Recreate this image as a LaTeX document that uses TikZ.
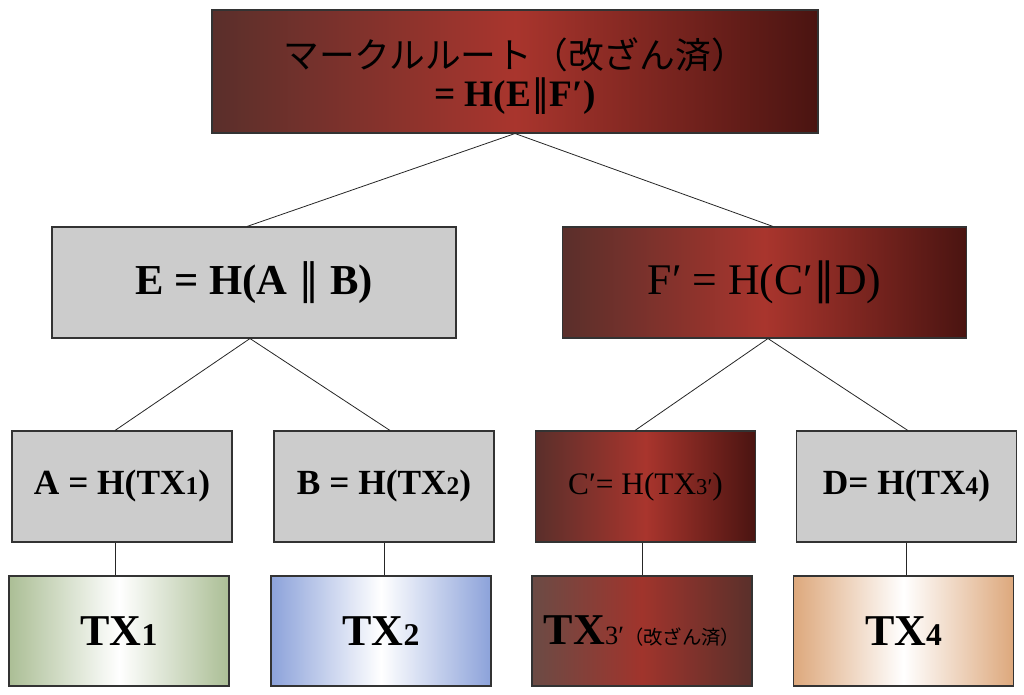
\documentclass[tikz,border=0pt]{standalone}
\usepackage{fontspec}
\setmainfont{Liberation Serif}
\newfontfamily\jp{Noto Sans CJK JP}
\newfontfamily\dvs{DejaVu Sans}
\newcommand\sdig[1]{\scalebox{0.72}{#1}}
\newcommand\pll{{\dvs\mdseries ∥}}
\definecolor{boxgray}{HTML}{CCCCCC}
\definecolor{bordergray}{HTML}{333333}
\definecolor{redL}{HTML}{5A2F2B}
\definecolor{redM}{HTML}{A9352D}
\definecolor{redR}{HTML}{4A1411}
\definecolor{brL}{HTML}{6B4B45}
\definecolor{brM}{HTML}{A0342C}
\definecolor{brR}{HTML}{5A302B}
\definecolor{grnE}{HTML}{ABBE95}
\definecolor{bluE}{HTML}{8CA2DA}
\definecolor{orgE}{HTML}{DDA87C}
\begin{document}
\begin{tikzpicture}[x=0.75pt,y=-0.75pt,
  box/.style={draw=bordergray, line width=0.8pt, inner sep=0pt, align=center, font=\bfseries},
  bigbox/.style={box, minimum width=303pt, minimum height=83.25pt},
  smallbox/.style={box, minimum width=165pt, minimum height=83.25pt},
  txbox/.style={box, minimum width=165pt, minimum height=82.5pt},
  graybox/.style={fill=boxgray},
  redbox/.style={left color=redL, right color=redR, middle color=redM},
  brownbox/.style={left color=brL, right color=brR, middle color=brM},
  greenbox/.style={left color=grnE, right color=grnE, middle color=white},
  bluebox/.style={left color=bluE, right color=bluE, middle color=white},
  orangebox/.style={left color=orgE, right color=orgE, middle color=white},
  link/.style={draw=black!85, line width=0.6pt}]
\useasboundingbox (0,0) rectangle (1024,695);

\node[box, redbox, minimum width=454.5pt, minimum height=92.25pt] (root) at (515,71.5)
  {\rule{0pt}{30pt}{\jp\mdseries\fontsize{26.8}{28}\selectfont マークルルート（改ざん済）}\\[4pt]
   {\fontsize{28}{27}\selectfont = H(E\pll F′)}};

\node[bigbox, graybox] (E) at (254,282.5) {\fontsize{32}{36}\selectfont E = H(A \pll{} B)};
\node[bigbox, redbox] (F) at (764.5,282.5) {\mdseries\fontsize{32.8}{36}\selectfont F′ = H(C′\pll D)};

\node[smallbox, graybox] (A) at (122,486.5) {\fontsize{26.5}{30}\selectfont A = H(TX\sdig{1})};
\node[smallbox, graybox] (B) at (384,486.5) {\fontsize{26.5}{30}\selectfont B = H(TX\sdig{2})};
\node[smallbox, redbox] (C) at (645.5,486.5) {\mdseries\fontsize{23.5}{28}\selectfont C′= H(TX\sdig{3′})};
\node[smallbox, graybox] (D) at (906.5,486.5) {\fontsize{26.5}{30}\selectfont D= H(TX\sdig{4})};

\node[txbox, greenbox] (T1) at (119,631) {\fontsize{33}{38}\selectfont TX\sdig{1}};
\node[txbox, bluebox] (T2) at (381,631) {\fontsize{33}{38}\selectfont TX\sdig{2}};
\node[txbox, brownbox] (T3) at (642,631) {\fontsize{33}{38}\selectfont TX\scalebox{0.6}{\mdseries 3′}{\jp\mdseries\fontsize{14.5}{17}\selectfont （改ざん済）}};
\node[txbox, orangebox] (T4) at (903.5,631) {\fontsize{33}{38}\selectfont TX\sdig{4}};

\draw[link] (root.south) -- ([xshift=-5.25pt]E.north);
\draw[link] (root.south) -- ([xshift=6.4pt]F.north);
\draw[link] ([xshift=-3pt]E.south) -- ([xshift=-5.25pt]A.north);
\draw[link] ([xshift=-3pt]E.south) -- ([xshift=4.5pt]B.north);
\draw[link] ([xshift=2.6pt]F.south) -- ([xshift=-7.9pt]C.north);
\draw[link] ([xshift=2.6pt]F.south) -- ([xshift=1pt]D.north);
\draw[link] ([xshift=-5.25pt]A.south) -- ([xshift=-5.25pt]A.south |- T1.north);
\draw[link] (B.south) -- (B.south |- T2.north);
\draw[link] ([xshift=-2.6pt]C.south) -- ([xshift=-2.6pt]C.south |- T3.north);
\draw[link] (D.south) -- (D.south |- T4.north);
\end{tikzpicture}
\end{document}
